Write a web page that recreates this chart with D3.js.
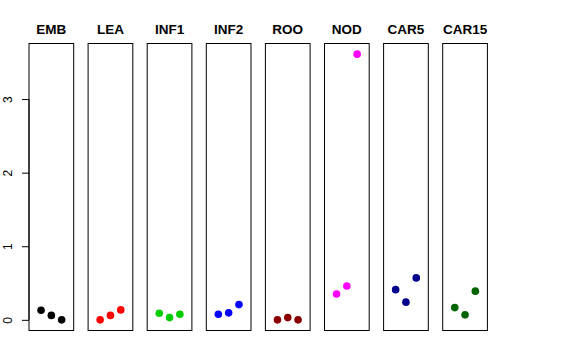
<!DOCTYPE html>
<html><head><meta charset="utf-8">
<script src="https://cdn.jsdelivr.net/npm/d3@7"></script>
<style>body{margin:0;background:#fff}svg{display:block}</style>
</head><body>
<script>
const categories = ["EMB","LEA","INF1","INF2","ROO","NOD","CAR5","CAR15"];
const colors = ["#000000","#ff0000","#00cd00","#0000ff","#8b0000","#ff00ff","#00008b","#006400"];
const xPositions = [1,2,3];
const EMB = [0.13, 0.06, 0.0];
const LEA = [0.0, 0.06, 0.135];
const INF1 = [0.09, 0.03, 0.076];
const INF2 = [0.076, 0.095, 0.207];
const ROO = [0.0, 0.03, 0.0];
const NOD = [0.35, 0.46, 3.61];
const CAR5 = [0.41, 0.24, 0.57];
const CAR15 = [0.166, 0.068, 0.39];
const seriesValues = [EMB, LEA, INF1, INF2, ROO, NOD, CAR5, CAR15];
const yTicks = [0,1,2,3];

const W = 576, H = 360;
const svg = d3.select("body").append("svg").attr("width", W).attr("height", H);
const font = "'Liberation Sans', Arial, Helvetica, sans-serif";

const panel = d3.scaleBand().domain(categories).range([29, 487.4]).paddingInner(0.2437).paddingOuter(0);
const y = d3.scaleLinear().domain([-0.145, 3.755]).range([330.5, 43.5]);

categories.forEach((c, i) => {
  const x0 = panel(c), bw = panel.bandwidth();
  const cx = x0 + bw / 2;
  const x = d3.scaleLinear().domain([1, 3]).range([cx - 10.3, cx + 10.3]);
  const g = svg.append("g");
  g.append("rect").attr("x", x0).attr("y", 43.5).attr("width", bw).attr("height", 287)
    .attr("fill", "none").attr("stroke", "#000").attr("stroke-width", 1);
  g.selectAll("circle").data(seriesValues[i]).join("circle")
    .attr("cx", (d, j) => x(xPositions[j])).attr("cy", d => y(d)).attr("r", 3.8)
    .attr("fill", colors[i]);
  g.append("text").attr("x", cx).attr("y", 34).attr("text-anchor", "middle")
    .attr("font-family", font).attr("font-weight", "bold").attr("font-size", 13.5)
    .text(c);
});

const axis = d3.axisLeft(y).tickValues(yTicks).tickSize(7).tickFormat(d3.format("d"));
const ag = svg.append("g").attr("transform", "translate(29,0)").call(axis);
ag.select(".domain").attr("d", `M0,${y(0)}V${y(3)}`).attr("stroke", "#000");
ag.selectAll(".tick line").attr("stroke", "#000");
ag.selectAll(".tick text")
  .attr("font-family", font).attr("font-size", 12).attr("fill", "#000")
  .attr("text-anchor", "middle").attr("x", null).attr("dy", null)
  .attr("transform", "translate(-21.7,0) rotate(-90)").attr("dy", "0.35em");
</script>
</body></html>
